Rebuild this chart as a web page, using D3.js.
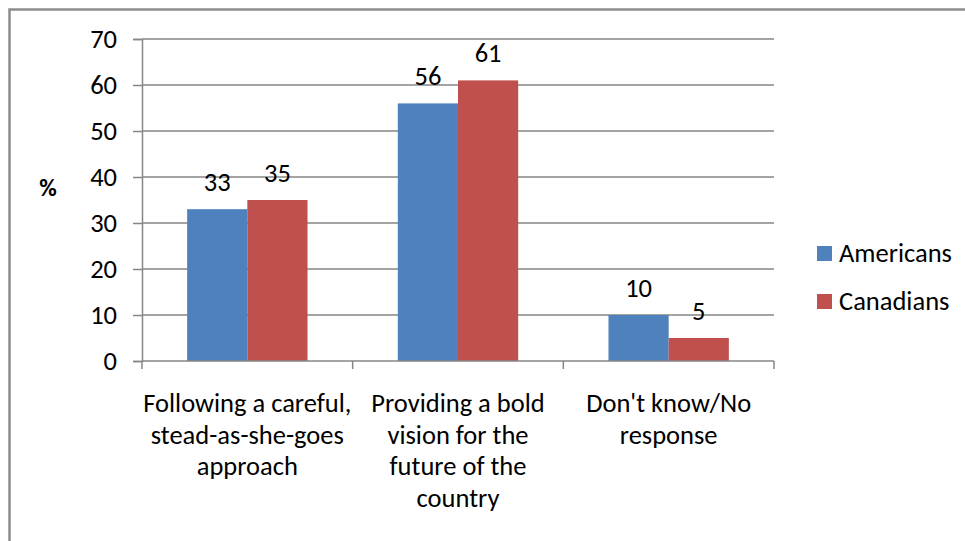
<!DOCTYPE html>
<html>
<head>
<meta charset="utf-8">
<script src="https://cdn.jsdelivr.net/npm/d3@7"></script>
<style>
  html, body { margin: 0; padding: 0; background: #fff; }
  svg { display: block; }
  text { font-family: Carlito, Calibri, Lato, "Open Sans", sans-serif; fill: #000; }
</style>
</head>
<body>
<script>
// Survey answers by group (%)
const categories = [
  ["Following a careful,", "stead-as-she-goes", "approach"],
  ["Providing a bold", "vision for the", "future of the", "country"],
  ["Don't know/No", "response"]
];
const seriesNames = ["Americans", "Canadians"];
const americans = [33, 56, 10];
const canadians = [35, 61, 5];
const yTicks = [0, 10, 20, 30, 40, 50, 60, 70];
const colors = ["#4F81BD", "#C0504D"];

const W = 965, H = 541;
const plot = { left: 142, right: 774, top: 39, bottom: 361 };
const fontSize = 26.5;

const svg = d3.select("body").append("svg").attr("width", W).attr("height", H);

// outer chart frame
svg.append("rect")
  .attr("x", 9.5).attr("y", 9.5)
  .attr("width", W + 20).attr("height", H + 20)
  .attr("fill", "none").attr("stroke", "#8c8c8c").attr("stroke-width", 2.5);

const x0 = d3.scaleBand().domain(d3.range(categories.length))
  .range([plot.left, plot.right]).paddingInner(0).paddingOuter(0);
const x1 = d3.scaleBand().domain(d3.range(seriesNames.length))
  .range([0, x0.bandwidth()]).paddingOuter(0.75).paddingInner(0);
const y = d3.scaleLinear().domain([0, 70]).range([plot.bottom, plot.top]);

const gridColor = "#868686";

// horizontal gridlines + y axis
const yAxis = svg.append("g").attr("transform", `translate(${plot.left},0)`)
  .call(d3.axisLeft(y).tickValues(yTicks).tickSize(9).tickPadding(16));
yAxis.select(".domain").attr("stroke", gridColor).attr("stroke-width", 1.5);
yAxis.selectAll(".tick line").attr("stroke", gridColor).attr("stroke-width", 1.5);
yAxis.selectAll(".tick text")
  .attr("font-size", fontSize).attr("fill", "#000")
  .style("font-family", "Carlito, Calibri, Lato, 'Open Sans', sans-serif");

svg.append("g").selectAll("line").data(yTicks.filter(d => d > 0)).join("line")
  .attr("x1", plot.left).attr("x2", plot.right)
  .attr("y1", d => y(d)).attr("y2", d => y(d))
  .attr("stroke", gridColor).attr("stroke-width", 1.5);

// bars
const groups = svg.append("g").selectAll("g")
  .data(categories.map((c, i) => [americans[i], canadians[i]]))
  .join("g")
  .attr("transform", (d, i) => `translate(${x0(i)},0)`);

groups.selectAll("rect").data(d => d).join("rect")
  .attr("x", (d, j) => x1(j))
  .attr("width", x1.bandwidth())
  .attr("y", d => y(d))
  .attr("height", d => y(0) - y(d))
  .attr("fill", (d, j) => colors[j]);

groups.selectAll("text.val").data(d => d).join("text")
  .attr("class", "val")
  .attr("x", (d, j) => x1(j) + x1.bandwidth() / 2)
  .attr("y", d => y(d) - 18)
  .attr("text-anchor", "middle")
  .attr("font-size", fontSize)
  .text(d => d);

// x axis with category boundary ticks
const xBase = svg.append("g");
xBase.append("line")
  .attr("x1", plot.left).attr("x2", plot.right)
  .attr("y1", plot.bottom).attr("y2", plot.bottom)
  .attr("stroke", gridColor).attr("stroke-width", 1.5);
const bounds = d3.range(categories.length + 1).map(i =>
  i < categories.length ? x0(i) : x0(i - 1) + x0.bandwidth());
xBase.selectAll("line.tick").data(bounds).join("line")
  .attr("class", "tick")
  .attr("x1", d => d).attr("x2", d => d)
  .attr("y1", plot.bottom).attr("y2", plot.bottom + 8)
  .attr("stroke", gridColor).attr("stroke-width", 1.5);

// category labels
const catLabels = svg.append("g").selectAll("text").data(categories).join("text")
  .attr("text-anchor", "middle")
  .attr("font-size", fontSize)
  .attr("x", (d, i) => x0(i) + x0.bandwidth() / 2)
  .attr("y", 412);
catLabels.selectAll("tspan").data(d => d).join("tspan")
  .attr("x", function () { return d3.select(this.parentNode).attr("x"); })
  .attr("dy", (d, k) => k === 0 ? 0 : 31.7)
  .text(d => d);

// axis title
svg.append("text")
  .attr("x", 48).attr("y", 196)
  .attr("text-anchor", "middle")
  .attr("font-size", 24).attr("font-weight", "bold")
  .text("%");

// legend
const legend = svg.append("g").selectAll("g").data(seriesNames).join("g")
  .attr("transform", (d, i) => `translate(817,${246 + i * 48})`);
legend.append("rect").attr("width", 15).attr("height", 15)
  .attr("fill", (d, i) => colors[i]);
legend.append("text").attr("x", 22).attr("y", 16)
  .attr("font-size", fontSize).text(d => d);
</script>
</body>
</html>
